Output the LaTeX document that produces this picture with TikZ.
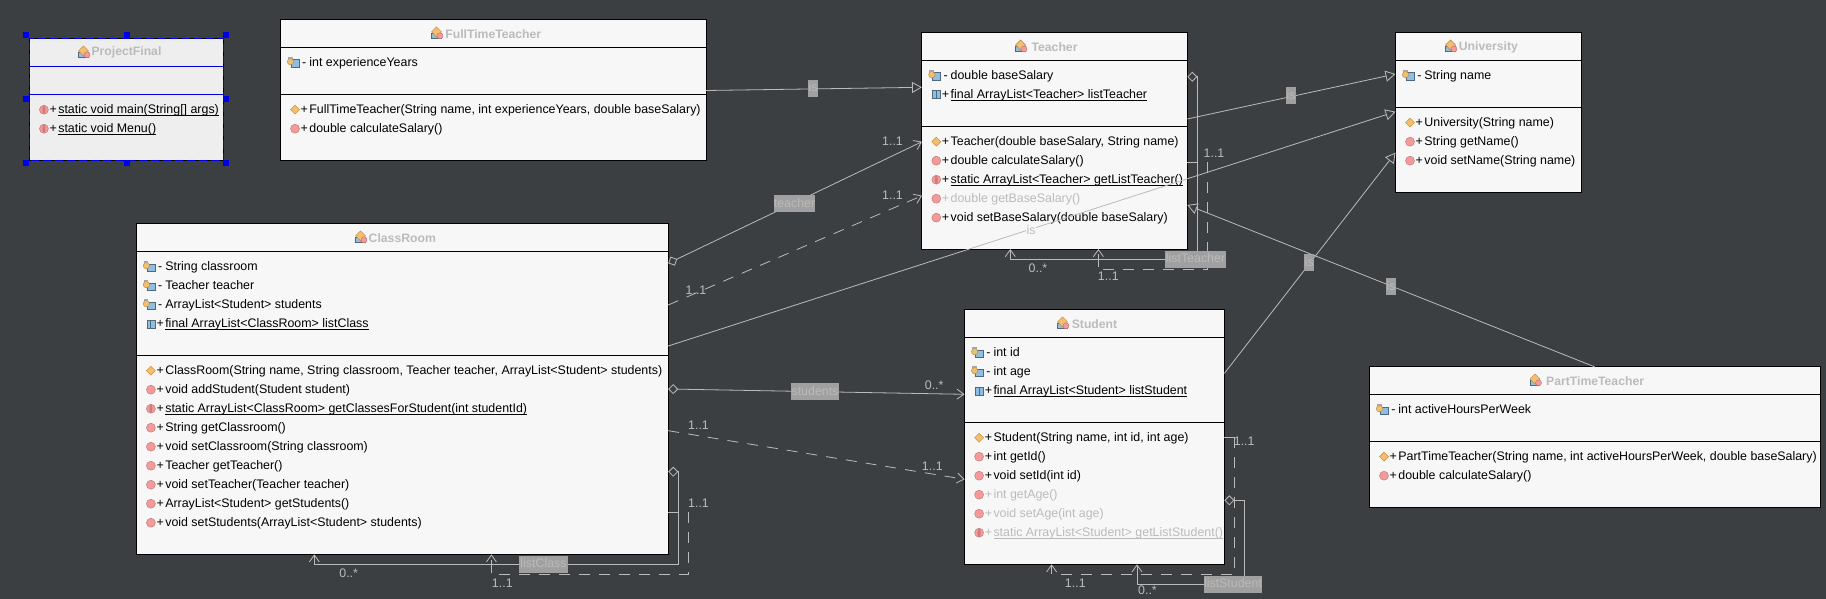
\documentclass[tikz,border=0pt]{standalone}
\usepackage{fontspec}
\usetikzlibrary{arrows.meta}
\setmainfont{Liberation Sans}
\newfontfamily\umlfont{Liberation Sans}
\definecolor{bgc}{HTML}{3C3F41}
\definecolor{boxc}{HTML}{F7F7F7}
\definecolor{projc}{HTML}{EEEEEE}
\definecolor{wire}{HTML}{BBBBBB}
\definecolor{tagc}{HTML}{A0A0A0}
\definecolor{graytx}{HTML}{BBBBBB}
\definecolor{selc}{HTML}{0000E6}
\definecolor{iblue}{HTML}{8FBEE2}
\definecolor{iorange}{HTML}{F0C070}
\definecolor{ired}{HTML}{F49A9A}
\definecolor{iredd}{HTML}{C07070}
\definecolor{istripe}{HTML}{CC7C7C}
\newsavebox{\uubox}
\newcommand{\uu}[1]{\sbox{\uubox}{#1}\rlap{\raisebox{-1.9pt}{\rule{\wd\uubox}{.8pt}}}\usebox{\uubox}}
\tikzset{
 umlbox/.style={draw=black,fill=boxc,line width=.9pt,inner sep=0pt,outer sep=0pt},
 projbox/.style={draw=selc,fill=projc,line width=.9pt,inner sep=0pt,outer sep=0pt},
 titletx/.style={inner sep=0pt,text=graytx,font=\umlfont\fontsize{12.2}{14}\selectfont\bfseries},
 membertx/.style={inner sep=0pt,anchor=base west,text=black,font=\umlfont\fontsize{12.4}{14}\selectfont},
 signtx/.style={inner sep=0pt,anchor=base,text=black,font=\umlfont\fontsize{12.4}{14}\selectfont},
 wiretx/.style={inner sep=0pt,text=wire,font=\umlfont\fontsize{12.4}{14}\selectfont},
 tagbox/.style={inner sep=0pt,fill=tagc,text=graytx,text height=10pt,text depth=3pt,minimum height=17pt,font=\umlfont\fontsize{12.4}{14}\selectfont},
 handle/.style={fill=selc,draw=none,minimum size=6pt,inner sep=0pt},
 conn/.style={draw=wire,line width=.8pt},
 dashconn/.style={conn,dash pattern=on 11pt off 9pt},
 gen/.style={conn,-{Triangle[length=10pt,width=11pt,fill=bgc]}},
 dep/.style={dashconn,-{Straight Barb[length=7pt,width=10pt]}},
 assoc/.style={conn,{Diamond[length=10pt,width=10pt,fill=bgc]}-{Straight Barb[length=7pt,width=10pt]}},
}
% icons, each drawn round its own centre
\newcommand{\ifield}[2]{\begin{scope}[shift={({#1},{#2})}]
 \fill[iblue,draw=black!45!iblue,line width=.4pt] (-4,-3) rectangle (4,4.5);
 \fill[iorange,draw=brown,line width=.4pt] (-4.5,-1) circle (3.2);
 \fill[gray!70] (-7,-5.5) rectangle (-2.5,-3.5);
\end{scope}}
\newcommand{\isfield}[2]{\begin{scope}[shift={({#1},{#2})}]
 \fill[iblue,draw=black!45!iblue,line width=.4pt] (-4,-4) rectangle (4,4);
 \draw[black!45!iblue,line width=.9pt] (0,-4)--(0,4);
\end{scope}}
\newcommand{\ictor}[2]{\begin{scope}[shift={({#1},{#2})}]
 \fill[iorange,draw=brown!70!orange,line width=.4pt] (0,-4.5)--(4.5,0)--(0,4.5)--(-4.5,0)--cycle;
\end{scope}}
\newcommand{\imeth}[2]{\begin{scope}[shift={({#1},{#2})}]
 \fill[ired,draw=iredd,line width=.4pt] (0,0) circle (4.5);
\end{scope}}
\newcommand{\ismeth}[2]{\begin{scope}[shift={({#1},{#2})}]
 \fill[ired,draw=iredd,line width=.4pt] (0,0) circle (4.5);
 \fill[istripe] (0,0) ellipse (1.5 and 4.5);
\end{scope}}
\newcommand{\iclass}[2]{\begin{scope}[shift={({#1},{#2})}]
 \fill[iblue,draw=black!45!iblue,line width=.4pt] (-5.5,0) rectangle (4,5);
 \fill[iorange,draw=brown,line width=.4pt] (-.5,-6.5)--(4.5,-1.5)--(-.5,3.5)--(-5.5,-1.5)--cycle;
 \fill[ired,draw=iredd,line width=.4pt] (3,2.5) circle (3);
\end{scope}}
% #1 name, #2 x0, #3 y0, #4 x1, #5 y1, #6 line1, #7 line2, #8 title, #9 title icon x
\newcommand{\umlclass}[9]{%
 \node[umlbox,anchor=north west,minimum width=#4pt-#2pt,minimum height=#5pt-#3pt] (#1) at (#2,#3) {};
 \draw[black,line width=.9pt] (#2,#6)--(#4,#6) (#2,#7)--(#4,#7);
 \node[titletx] (#1-title) at ({(#2+#4)/2},{(#3+#6)/2+.4}) {#8};
 \iclass{#9}{(#3+#6)/2}}
% #1 name #2 x (box left) #3 y #4 sign #5 icon macro #6 text style #7 text
\newcommand{\umlrow}[7]{%
 #5{#2+14.5}{#3}
 \node[signtx,#6] (#1s) at ({#2+23.8},{#3+4}) {#4};
 \node[membertx,#6] (#1) at ({#2+28.7},{#3+4}) {#7};}
\begin{document}
\begin{tikzpicture}[x=1pt,y=-1pt]
\useasboundingbox (0,0) rectangle (1826,599);
\fill[bgc] (0,0) rectangle (1826,599);
% ProjectFinal
\node[projbox,anchor=north west,minimum width=194.2pt,minimum height=122pt] (projectfinal) at (29.4,38.3) {};
\draw[selc,line width=.9pt] (29.4,66.3)--(223.6,66.3) (29.4,94.3)--(223.6,94.3);
\draw[black,line width=.9pt,dash pattern=on 4pt off 8pt] (projectfinal.north west) rectangle (projectfinal.south east);
\node[titletx] (projectfinal-title) at (126.5,52.7) {ProjectFinal};
\iclass{84}{52.3}
\umlrow{pf1}{29.4}{109.7}{+}{\ismeth}{}{\uu{static void main(String[] args)}}
\umlrow{pf2}{29.4}{128.7}{+}{\ismeth}{}{\uu{static void Menu()}}
\foreach \hn/\hx/\hy in {h1/26/35.3,h2/126.5/35.3,h3/226/35.3,h4/26/99.3,h5/226/99.3,h6/26/163.3,h7/126.5/163.3,h8/226/163.3}
 \node[handle] (\hn) at (\hx,\hy) {};
% FullTimeTeacher
\umlclass{fulltime}{280.5}{19.3}{706}{160.3}{47.3}{94.3}{FullTimeTeacher}{437}
\umlrow{ft1}{280.5}{62.7}{-}{\ifield}{}{int experienceYears}
\umlrow{ft2}{280.5}{109.7}{+}{\ictor}{}{FullTimeTeacher(String name, int experienceYears, double baseSalary)}
\umlrow{ft3}{280.5}{128.7}{+}{\imeth}{}{double calculateSalary()}
% Teacher
\umlclass{teacher}{921.8}{32.7}{1187.3}{249}{60.3}{126.3}{Teacher}{1021}
\umlrow{te1}{921.8}{75.7}{-}{\ifield}{}{double baseSalary}
\umlrow{te2}{921.8}{94.7}{+}{\isfield}{}{\uu{final ArrayList<Teacher> listTeacher}}
\umlrow{te3}{921.8}{141.7}{+}{\ictor}{}{Teacher(double baseSalary, String name)}
\umlrow{te4}{921.8}{160.7}{+}{\imeth}{}{double calculateSalary()}
\umlrow{te5}{921.8}{179.7}{+}{\ismeth}{}{\uu{static ArrayList<Teacher> getListTeacher()}}
\umlrow{te6}{921.8}{198.7}{+}{\imeth}{text=graytx}{double getBaseSalary()}
\umlrow{te7}{921.8}{217.7}{+}{\imeth}{}{void setBaseSalary(double baseSalary)}
% University
\umlclass{university}{1395.5}{32.7}{1581.2}{192.3}{60.3}{107.3}{University}{1451}
\umlrow{un1}{1395.5}{75.7}{-}{\ifield}{}{String name}
\umlrow{un2}{1395.5}{122.7}{+}{\ictor}{}{University(String name)}
\umlrow{un3}{1395.5}{141.7}{+}{\imeth}{}{String getName()}
\umlrow{un4}{1395.5}{160.7}{+}{\imeth}{}{void setName(String name)}
% ClassRoom
\umlclass{classroom}{136.4}{223.3}{668.2}{554.3}{251.3}{355.3}{ClassRoom}{361}
\umlrow{cr1}{136.4}{266.7}{-}{\ifield}{}{String classroom}
\umlrow{cr2}{136.4}{285.7}{-}{\ifield}{}{Teacher teacher}
\umlrow{cr3}{136.4}{304.7}{-}{\ifield}{}{ArrayList<Student> students}
\umlrow{cr4}{136.4}{323.7}{+}{\isfield}{}{\uu{final ArrayList<ClassRoom> listClass}}
\umlrow{cr5}{136.4}{370.7}{+}{\ictor}{}{ClassRoom(String name, String classroom, Teacher teacher, ArrayList<Student> students)}
\umlrow{cr6}{136.4}{389.7}{+}{\imeth}{}{void addStudent(Student student)}
\umlrow{cr7}{136.4}{408.7}{+}{\ismeth}{}{\uu{static ArrayList<ClassRoom> getClassesForStudent(int studentId)}}
\umlrow{cr8}{136.4}{427.7}{+}{\imeth}{}{String getClassroom()}
\umlrow{cr9}{136.4}{446.7}{+}{\imeth}{}{void setClassroom(String classroom)}
\umlrow{cr10}{136.4}{465.7}{+}{\imeth}{}{Teacher getTeacher()}
\umlrow{cr11}{136.4}{484.7}{+}{\imeth}{}{void setTeacher(Teacher teacher)}
\umlrow{cr12}{136.4}{503.7}{+}{\imeth}{}{ArrayList<Student> getStudents()}
\umlrow{cr13}{136.4}{522.7}{+}{\imeth}{}{void setStudents(ArrayList<Student> students)}
% Student
\umlclass{student}{964.6}{309.3}{1224.4}{564.3}{337.3}{422.3}{Student}{1063}
\umlrow{st1}{964.6}{352.7}{-}{\ifield}{}{int id}
\umlrow{st2}{964.6}{371.7}{-}{\ifield}{}{int age}
\umlrow{st3}{964.6}{390.7}{+}{\isfield}{}{\uu{final ArrayList<Student> listStudent}}
\umlrow{st4}{964.6}{437.7}{+}{\ictor}{}{Student(String name, int id, int age)}
\umlrow{st5}{964.6}{456.7}{+}{\imeth}{}{int getId()}
\umlrow{st6}{964.6}{475.7}{+}{\imeth}{}{void setId(int id)}
\umlrow{st7}{964.6}{494.7}{+}{\imeth}{text=graytx}{int getAge()}
\umlrow{st8}{964.6}{513.7}{+}{\imeth}{text=graytx}{void setAge(int age)}
\umlrow{st9}{964.6}{532.7}{+}{\ismeth}{text=graytx}{\uu{static ArrayList<Student> getListStudent()}}
% PartTimeTeacher
\umlclass{parttime}{1369.5}{366.3}{1820.7}{507}{394.3}{441.3}{PartTimeTeacher}{1535.5}
\umlrow{pt1}{1369.5}{409.7}{-}{\ifield}{}{int activeHoursPerWeek}
\umlrow{pt2}{1369.5}{456.7}{+}{\ictor}{}{PartTimeTeacher(String name, int activeHoursPerWeek, double baseSalary)}
\umlrow{pt3}{1369.5}{475.7}{+}{\imeth}{}{double calculateSalary()}
% connector end points
\coordinate (ftA) at (706,90.5);      \coordinate (teA) at (922,87.3);
\coordinate (teB) at (1187.3,119);    \coordinate (unA) at (1395.5,74);
\coordinate (crC) at (668.2,346);     \coordinate (unB) at (1395.5,111.7);
\coordinate (stD) at (1224.4,373.3);  \coordinate (unC) at (1395.5,152.7);
\coordinate (ptE) at (1595,367);      \coordinate (teE) at (1187.3,205);
\coordinate (crF) at (668.2,263.3);   \coordinate (teF) at (922,141.7);
\coordinate (crG) at (668.2,305);     \coordinate (teG) at (922,195.7);
\coordinate (crH) at (668.2,389);     \coordinate (stH) at (964.6,394.3);
\coordinate (crI) at (668.2,430.7);   \coordinate (stI) at (964.6,479.3);
\coordinate (crJ) at (668.2,471.7);   \coordinate (crJe) at (314.3,554.3);
\coordinate (crK) at (668.2,512.3);   \coordinate (crKm) at (688.6,512.3); \coordinate (crKe) at (491.4,554.3);
\coordinate (teL) at (1187.3,76.7);   \coordinate (teLe) at (1010.3,249);
\coordinate (teM) at (1187.3,162.3);  \coordinate (teMm) at (1207.3,162.3); \coordinate (teMe) at (1098.4,249);
\coordinate (stN) at (1224.4,500.3);  \coordinate (stNe) at (1137,564.3);
\coordinate (stO) at (1224.4,437);    \coordinate (stOm) at (1234.3,437);  \coordinate (stOe) at (1051.6,564.3);
% generalisations
\draw[gen] (ftA)--(teA);
\draw[gen] (teB)--(unA);
\draw[gen] (crC)--(unB);
\draw[gen] (stD)--(unC);
\draw[gen] (ptE)--(teE);
% associations
\draw[assoc] (crF)--(teF);
\draw[dep] (crG)--(teG);
\draw[assoc] (crH)--(stH);
\draw[dep] (crI)--(stI);
% self loops
\draw[assoc] (crJ)--(678.7,471.7)--(678.7,564.3)--(314.3,564.3)--(crJe);
\draw[conn] (crK)--(678.7,512.3);
\draw[dep] (crKm)--(688.6,574)--(491.4,574)--(crKe);
\draw[conn] (491.4,572.7)--(491.4,560);
\draw[assoc] (teL)--(1197.6,76.7)--(1197.6,259.3)--(1010.3,259.3)--(teLe);
\draw[conn] (teM)--(1197.6,162.3);
\draw[dep] (teMm)--(1207.3,269)--(1098.4,269)--(teMe);
\draw[conn] (1098.4,267)--(1098.4,255);
\draw[assoc] (stN)--(1244,500.3)--(1244,584.3)--(1137,584.3)--(stNe);
\draw[conn] (stO)--(stOm);
\draw[dep] (stOm)--(1234.3,574.3)--(1051.6,574.3)--(stOe);
% labels on connectors
\node[tagbox,minimum width=10pt] (lb1) at (813,88.5) {is};
\node[tagbox,minimum width=10pt] (lb2) at (1291,95.7) {is};
\node[tagbox,fill=boxc,minimum width=10pt] (lb3) at (1031,230.5) {is};
\node[tagbox,minimum width=10pt] (lb4) at (1309,262.5) {is};
\node[tagbox,minimum width=10pt] (lb5) at (1391,286.5) {is};
\node[tagbox,minimum width=41pt] (lb6) at (794.5,203.5) {teacher};
\node[tagbox,minimum width=48pt] (lb7) at (815,391.5) {students};
\node[tagbox,minimum width=49pt] (lb8) at (543.5,564.2) {listClass};
\node[tagbox,minimum width=61pt] (lb9) at (1195.5,259.3) {listTeacher};
\node[tagbox,minimum width=58pt] (lb10) at (1233,584.3) {listStudent};
% multiplicities
\node[wiretx] (m1) at (892.5,141.7) {1..1};
\node[wiretx] (m2) at (892.5,195) {1..1};
\node[wiretx] (m3) at (696,290) {1..1};
\node[wiretx] (m4) at (934.2,385) {0..*};
\node[wiretx] (m5) at (698.5,425) {1..1};
\node[wiretx] (m6) at (932.3,466.7) {1..1};
\node[wiretx] (m7) at (698.5,503.7) {1..1};
\node[wiretx] (m8) at (348.7,573.3) {0..*};
\node[wiretx] (m9) at (502.3,583.3) {1..1};
\node[wiretx] (m10) at (1038,268.3) {0..*};
\node[wiretx] (m11) at (1108.3,276.7) {1..1};
\node[wiretx] (m12) at (1214,153.7) {1..1};
\node[wiretx] (m13) at (1147.5,590.7) {0..*};
\node[wiretx] (m14) at (1075.3,583.7) {1..1};
\node[wiretx] (m15) at (1244.2,441.7) {1..1};
\end{tikzpicture}
\end{document}
